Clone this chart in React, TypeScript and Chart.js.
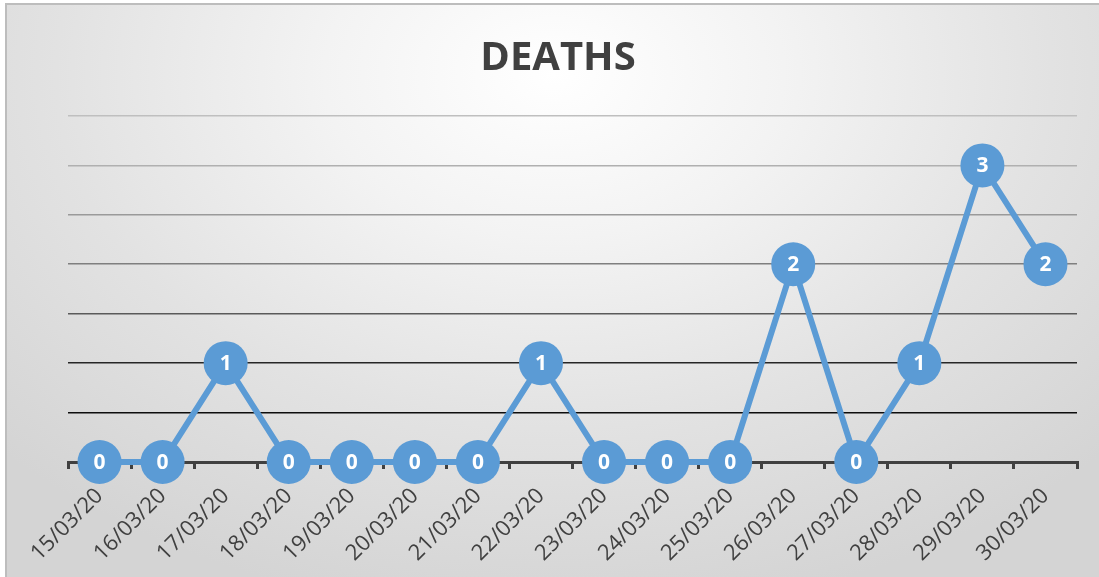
import React, { useEffect, useRef } from "react";
import { Chart, registerables } from "chart.js";

Chart.register(...registerables);

const TITLE = "DEATHS";
const DATES = [
  "15/03/20", "16/03/20", "17/03/20", "18/03/20", "19/03/20", "20/03/20",
  "21/03/20", "22/03/20", "23/03/20", "24/03/20", "25/03/20", "26/03/20",
  "27/03/20", "28/03/20", "29/03/20", "30/03/20",
];
const DEATHS = [0, 0, 1, 0, 0, 0, 0, 1, 0, 0, 0, 2, 0, 1, 3, 2];
const Y_MIN = 0;
const Y_MAX = 3.5;
const Y_STEP = 0.5;

const GRID_COLORS: Record<string, string> = {
  "0": "#404040",
  "0.5": "#0d0d0d",
  "1": "#262626",
  "1.5": "#5a5a5a",
  "2": "#7f7f7f",
  "2.5": "#9a9a9a",
  "3": "#b0b0b0",
  "3.5": "#bfbfbf",
};

const BLUE = "#5B9BD5";

const titleDraw = {
  id: "titleDraw",
  afterDraw(chart: any) {
    const ctx = chart.ctx;
    ctx.save();
    ctx.fillStyle = "#404040";
    ctx.font = "bold 40px 'Open Sans', sans-serif";
    ctx.textAlign = "center";
    ctx.textBaseline = "alphabetic";
    ctx.fillText(TITLE, 558, 70);
    ctx.restore();
  },
};

const valueLabels = {
  id: "valueLabels",
  afterDatasetsDraw(chart: any) {
    const ctx = chart.ctx;
    const meta = chart.getDatasetMeta(0);
    ctx.save();
    ctx.fillStyle = "#ffffff";
    ctx.font = "bold 21px 'Open Sans', sans-serif";
    ctx.textAlign = "center";
    ctx.textBaseline = "middle";
    meta.data.forEach((pt: any, i: number) => {
      ctx.fillText(String(chart.data.datasets[0].data[i]), pt.x, pt.y + 1);
    });
    ctx.restore();
  },
};

export default function App() {
  const ref = useRef<HTMLCanvasElement | null>(null);

  useEffect(() => {
    document.body.style.margin = "0";
    document.body.style.overflow = "hidden";
    if (!ref.current) return;
    const chart = new Chart(ref.current, {
      type: "line",
      data: {
        labels: DATES,
        datasets: [
          {
            label: TITLE,
            data: DEATHS,
            borderColor: BLUE,
            backgroundColor: BLUE,
            borderWidth: 6,
            pointRadius: 22,
            pointHoverRadius: 22,
            pointBackgroundColor: BLUE,
            pointBorderColor: BLUE,
            pointBorderWidth: 0,
            tension: 0,
            clip: false as any,
          },
        ],
      },
      options: {
        responsive: false,
        animation: false,
        events: [],
        layout: { padding: { left: 68, right: 21, top: 116, bottom: 0 } },
        plugins: {
          legend: { display: false },
          tooltip: { enabled: false },
          title: { display: false },
        },
        scales: {
          x: {
            type: "category",
            offset: true,
            grid: {
              offset: true,
              drawOnChartArea: false,
              drawTicks: true,
              tickLength: 7,
              color: "#404040",
              lineWidth: 3,
            },
            border: { display: true, color: "#404040", width: 3 },
            ticks: {
              autoSkip: false,
              minRotation: 45,
              maxRotation: 45,
              padding: 14,
              color: "#404040",
              font: { family: "'Open Sans', sans-serif", size: 22 },
            },
            afterFit(scale: any) {
              scale.height = 115;
            },
          },
          y: {
            min: Y_MIN,
            max: Y_MAX,
            ticks: { display: false, stepSize: Y_STEP },
            border: { display: false },
            grid: {
              drawTicks: false,
              color: (c: any) => GRID_COLORS[String(c.tick?.value)] || "#bfbfbf",
              lineWidth: (c: any) => (c.tick?.value === 0 ? 3 : 1.6),
            },
            afterFit(scale: any) {
              scale.width = 0;
            },
          },
        },
      },
      plugins: [valueLabels, titleDraw],
    });
    return () => chart.destroy();
  }, []);

  return (
    <div
      style={{
        position: "fixed",
        left: 0,
        top: 0,
        width: 1099,
        height: 577,
        overflow: "hidden",
        background: "#ffffff",
      }}
    >
      <div
        style={{
          position: "absolute",
          left: 5,
          top: 3,
          width: 1094,
          height: 574,
          borderLeft: "2px solid #bdbdbd",
          borderTop: "2px solid #bdbdbd",
          background:
            "radial-gradient(ellipse 70% 95% at 50% 12%, #ffffff 0%, #f3f3f3 30%, #e2e2e2 65%, #d4d4d4 100%)",
        }}
      />
      <canvas
        ref={ref}
        width={1099}
        height={577}
        style={{ position: "absolute", left: 0, top: 0, width: 1099, height: 577 }}
      />
    </div>
  );
}
